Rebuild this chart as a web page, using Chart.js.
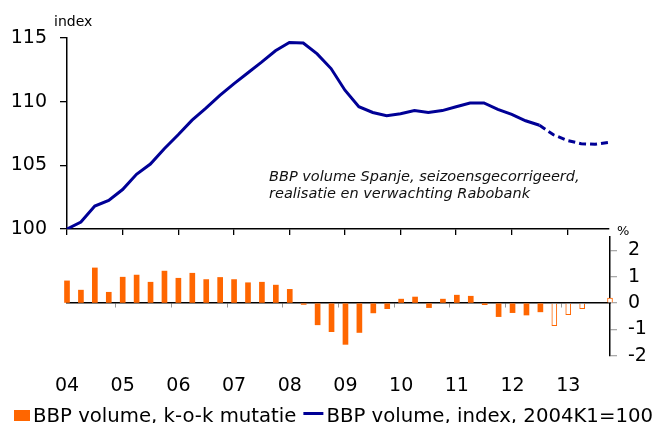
<!DOCTYPE html>
<html><head><meta charset="utf-8">
<script src="https://cdn.jsdelivr.net/npm/chart.js@4"></script>
<style>
html,body{margin:0;padding:0;background:#fff;}
#wrap{position:relative;width:656px;height:423px;overflow:hidden;}
#top{position:absolute;left:0;top:0;}
#bot{position:absolute;left:0;top:220px;}
</style></head><body>
<div id="wrap">
<canvas id="top" width="656" height="240"></canvas>
<canvas id="bot" width="656" height="203"></canvas>
</div>
<script>
// ---- data ----
const years = ['2004','2005','2006','2007','2008','2009','2010','2011','2012','2013'];
const yearLabels = ['04','05','06','07','08','09','10','11','12','13'];
const quarters = [];
years.forEach(y => { for (let q = 1; q <= 4; q++) quarters.push(y + 'K' + q); });

const indexValues = [100.0,100.55,101.8,102.25,103.1,104.3,105.1,106.3,107.4,108.55,
  109.5,110.5,111.4,112.25,113.1,114.0,114.65,114.6,113.75,112.6,
  110.9,109.6,109.15,108.9,109.05,109.3,109.15,109.3,109.6,109.9,
  109.9,109.4,109.0,108.5,108.15,107.4,106.95,106.7,106.65,106.8];

const growthValues = [0.84,0.49,1.33,0.41,0.98,1.06,0.79,1.21,0.94,1.13,
  0.89,0.97,0.89,0.77,0.79,0.68,0.52,-0.05,-0.82,-1.08,
  -1.56,-1.11,-0.37,-0.21,0.15,0.23,-0.17,0.15,0.30,0.26,
  -0.06,-0.51,-0.36,-0.45,-0.33,-0.85,-0.44,-0.21,0,0.19];

const lastRealized = 34;   // 2012K3
const firstForecast = 35;  // 2012K4

const seriesBars = 'BBP volume, k-o-k mutatie';
const seriesLine = 'BBP volume, index, 2004K1=100';
const noteLines = ['BBP volume Spanje, seizoensgecorrigeerd,', 'realisatie en verwachting Rabobank'];

// ---- styles ----
const FONT = '"DejaVu Sans", Verdana, sans-serif';
const BLUE = '#000096';
const ORANGE = '#FF6600';
const isYear = i => i % 4 === 0;

const topText = {
  id: 'topText',
  afterDraw(chart) {
    const ctx = chart.ctx;
    ctx.save();
    ctx.fillStyle = '#000';
    ctx.textBaseline = 'alphabetic';
    ctx.font = '14px ' + FONT;
    ctx.fillText('index', 54, 26);
    ctx.fillStyle = '#111';
    ctx.font = 'italic 14.5px ' + FONT;
    ctx.fillText(noteLines[0], 269, 181);
    ctx.fillText(noteLines[1], 269, 198);
    ctx.restore();
  }
};

const botText = {
  id: 'botText',
  afterDraw(chart) {
    const ctx = chart.ctx;
    ctx.save();
    ctx.fillStyle = '#000';
    ctx.textBaseline = 'alphabetic';
    ctx.font = '13px ' + FONT;
    ctx.fillText('%', 617, 15);
    // legend
    ctx.font = '19.7px ' + FONT;
    let x = 14;
    const base = 202;
    ctx.fillStyle = ORANGE;
    ctx.fillRect(x, 190, 16, 11);
    x += 19;
    ctx.fillStyle = '#000';
    ctx.fillText(seriesBars, x, base);
    x += ctx.measureText(seriesBars).width + 7;
    ctx.strokeStyle = BLUE;
    ctx.lineWidth = 3;
    ctx.beginPath();
    ctx.moveTo(x, 193.5);
    ctx.lineTo(x + 20, 193.5);
    ctx.stroke();
    x += 23;
    ctx.fillText(seriesLine, x, base);
    ctx.restore();
  }
};

const noPad = s => { s.paddingTop = 0; s.paddingBottom = 0; };

new Chart(document.getElementById('top'), {
  type: 'line',
  data: {
    labels: quarters,
    datasets: [{
      label: seriesLine,
      data: indexValues,
      borderColor: BLUE,
      borderWidth: 3,
      pointRadius: 0,
      tension: 0,
      fill: false,
      segment: { borderDash: c => c.p0DataIndex >= lastRealized ? [7, 4] : undefined }
    }]
  },
  options: {
    responsive: false,
    animation: false,
    layout: { padding: { top: 38, right: 47, left: 0, bottom: 0 } },
    plugins: { legend: { display: false }, tooltip: { enabled: false } },
    scales: {
      x: {
        type: 'category', offset: false,
        ticks: { display: false, autoSkip: false },
        grid: { drawOnChartArea: false, tickLength: 6, lineWidth: 1.3,
                color: c => isYear(c.index) ? '#000' : 'rgba(0,0,0,0)' },
        border: { color: '#000', width: 1.5 },
        afterFit: s => { s.height = 11; s.paddingLeft = 0; s.paddingRight = 0; }
      },
      y: {
        min: 100, max: 115,
        ticks: { stepSize: 5, color: '#000', font: { family: FONT, size: 19 }, padding: 13 },
        grid: { drawOnChartArea: false, tickLength: 7, color: '#000', lineWidth: 1.3 },
        border: { color: '#000', width: 1.5 },
        afterFit: s => { s.width = 67; noPad(s); }
      }
    }
  },
  plugins: [topText]
});

new Chart(document.getElementById('bot'), {
  type: 'bar',
  data: {
    labels: quarters,
    datasets: [{
      label: seriesBars,
      data: growthValues,
      backgroundColor: c => c.dataIndex >= firstForecast ? '#ffffff' : ORANGE,
      borderColor: ORANGE,
      borderWidth: c => c.dataIndex >= firstForecast ? 1 : 0,
      barThickness: 5,
      clip: false
    }]
  },
  options: {
    responsive: false,
    animation: false,
    layout: { padding: { top: 17, right: 0, left: 67, bottom: 27 } },
    plugins: { legend: { display: false }, tooltip: { enabled: false } },
    scales: {
      x: {
        type: 'category', offset: false,
        grid: { display: false },
        border: { display: false },
        ticks: {
          autoSkip: false, maxRotation: 0, minRotation: 0, padding: 11,
          color: '#000', font: { family: FONT, size: 19 },
          callback: (v, i) => isYear(i) ? yearLabels[i / 4] : ''
        },
        afterFit: s => { s.height = 40; s.paddingLeft = 0; s.paddingRight = 0; }
      },
      x2: {
        axis: 'x', type: 'category', offset: false, position: { y: 0 },
        ticks: { display: false, autoSkip: false },
        grid: { drawOnChartArea: false, tickLength: 4, lineWidth: 1,
                color: c => isYear(c.index) ? '#999' : 'rgba(0,0,0,0)' },
        border: { color: '#000', width: 1.5 },
        afterFit: s => { s.paddingLeft = 0; s.paddingRight = 0; }
      },
      y: {
        position: 'right', min: -2, max: 2.5,
        ticks: { stepSize: 1, includeBounds: false, color: '#000', font: { family: FONT, size: 19 }, padding: 11 },
        grid: { drawOnChartArea: false, tickLength: 7, color: '#aaa', lineWidth: 1.3 },
        border: { color: '#000', width: 1.5 },
        afterFit: s => { s.width = 46; noPad(s); }
      }
    }
  },
  plugins: [botText]
});
</script>
</body></html>
